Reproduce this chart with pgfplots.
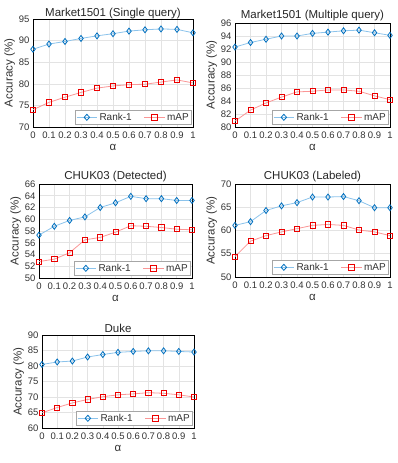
\documentclass[border=0pt]{standalone}
\usepackage{fontspec}
\setmainfont{Liberation Sans}
\usepackage{pgfplots}
\pgfplotsset{compat=1.18}
\definecolor{rankline}{RGB}{140,195,235}
\definecolor{rankmark}{RGB}{0,112,192}
\definecolor{mapline}{RGB}{250,150,150}
\definecolor{mapmark}{RGB}{235,0,0}
\pgfplotsset{
  myax/.style={
    scale only axis,
    xmin=0, xmax=1,
    xtick={0,0.1,0.2,0.3,0.4,0.5,0.6,0.7,0.8,0.9,1},
    xticklabels={0,0.1,0.2,0.3,0.4,0.5,0.6,0.7,0.8,0.9,1},
    grid=major,
    grid style={gray!22, line width=0.5pt},
    axis line style={black, line width=0.9pt},
    major tick length=0pt,
    tick label style={font=\fontsize{9.5}{11}\selectfont, text=black!80},
    xticklabel style={yshift=-1pt},
    /pgf/number format/assume math mode=true,
    xlabel={α}, ylabel={Accuracy (\%)},
    label style={font=\fontsize{11.5}{13}\selectfont, text=black!80},
    xlabel style={yshift=1pt},
    ylabel style={yshift=-3pt},
    title style={font=\fontsize{11.5}{13}\selectfont, text=black!85, yshift=-7pt},
    legend style={at={(1,0)}, anchor=south east, legend columns=2,
      draw=gray!70, line width=0.6pt, fill=white,
      font=\fontsize{10}{11}\selectfont, text=black!80,
      /tikz/every even column/.append style={column sep=10pt},
      xshift=-1pt, yshift=2pt, inner sep=1pt},
    legend image post style={xscale=1.2},
  },
  rk/.style={color=rankline, line width=0.8pt, mark=diamond, mark size=3pt,
    mark options={draw=rankmark, fill=white, line width=0.8pt}},
  mp/.style={color=mapline, line width=0.8pt, mark=square, mark size=2.6pt,
    mark options={draw=mapmark, fill=white, line width=0.8pt}},
}
\begin{document}
\begin{tikzpicture}
\useasboundingbox (0,0) rectangle (398pt,463pt);

% Market1501 single query
\begin{axis}[myax, at={(33pt,336pt)}, anchor=south west,
  width=160pt, height=108pt, ymin=70, ymax=95, ytick={70,75,...,95},
  title={Market1501 (Single query)}, title style={yshift=-2pt}]
\addplot[rk] coordinates {(0,88.0) (0.1,89.2) (0.2,89.8) (0.3,90.5) (0.4,91.1) (0.5,91.6) (0.6,92.2) (0.7,92.5) (0.8,92.7) (0.9,92.6) (1,91.8)};
\addplot[mp] coordinates {(0,74.0) (0.1,75.7) (0.2,76.9) (0.3,78.0) (0.4,79.0) (0.5,79.5) (0.6,79.8) (0.7,79.9) (0.8,80.4) (0.9,80.9) (1,80.2)};
\legend{Rank-1, mAP}
\end{axis}

% Market1501 multiple query
\begin{axis}[myax, at={(235pt,336pt)}, anchor=south west,
  width=155pt, height=104pt, ymin=80, ymax=96, ytick={80,82,...,96},
  title={Market1501 (Multiple query)}]
\addplot[rk] coordinates {(0,92.3) (0.1,93.0) (0.2,93.5) (0.3,94.0) (0.4,94.0) (0.5,94.4) (0.6,94.6) (0.7,94.8) (0.8,94.9) (0.9,94.5) (1,94.1)};
\addplot[mp] coordinates {(0,80.9) (0.1,82.6) (0.2,83.7) (0.3,84.6) (0.4,85.4) (0.5,85.5) (0.6,85.7) (0.7,85.7) (0.8,85.5) (0.9,84.8) (1,84.2)};
\legend{Rank-1, mAP}
\end{axis}

% CHUK03 detected
\begin{axis}[myax, at={(39pt,185pt)}, anchor=south west,
  width=153pt, height=94pt, ymin=50, ymax=66, ytick={50,52,...,66},
  title={CHUK03 (Detected)}]
\addplot[rk] coordinates {(0,57.3) (0.1,58.8) (0.2,59.8) (0.3,60.4) (0.4,62.0) (0.5,62.8) (0.6,63.9) (0.7,63.5) (0.8,63.5) (0.9,63.2) (1,63.2)};
\addplot[mp] coordinates {(0,52.8) (0.1,53.2) (0.2,54.3) (0.3,56.5) (0.4,56.9) (0.5,57.8) (0.6,58.9) (0.7,58.8) (0.8,58.6) (0.9,58.3) (1,58.2)};
\legend{Rank-1, mAP}
\end{axis}

% CHUK03 labeled
\begin{axis}[myax, at={(235pt,186pt)}, anchor=south west,
  width=155pt, height=93pt, ymin=50, ymax=70, ytick={50,55,...,70},
  title={CHUK03 (Labeled)}]
\addplot[rk] coordinates {(0,61.1) (0.1,61.9) (0.2,64.3) (0.3,65.3) (0.4,66.0) (0.5,67.2) (0.6,67.2) (0.7,67.3) (0.8,66.4) (0.9,64.9) (1,64.9)};
\addplot[mp] coordinates {(0,54.4) (0.1,57.7) (0.2,58.9) (0.3,59.7) (0.4,60.4) (0.5,61.1) (0.6,61.3) (0.7,61.1) (0.8,60.1) (0.9,59.7) (1,58.9)};
\legend{Rank-1, mAP}
\end{axis}

% Duke
\begin{axis}[myax, at={(42pt,35pt)}, anchor=south west,
  width=152pt, height=93pt, ymin=60, ymax=90, ytick={60,65,...,90},
  title={Duke}]
\addplot[rk] coordinates {(0,80.5) (0.1,81.3) (0.2,81.6) (0.3,82.9) (0.4,83.7) (0.5,84.4) (0.6,84.7) (0.7,84.9) (0.8,84.9) (0.9,84.7) (1,84.5)};
\addplot[mp] coordinates {(0,64.9) (0.1,66.6) (0.2,68.1) (0.3,69.2) (0.4,70.1) (0.5,70.7) (0.6,71.0) (0.7,71.4) (0.8,71.2) (0.9,70.7) (1,70.0)};
\legend{Rank-1, mAP}
\end{axis}
\end{tikzpicture}
\end{document}
